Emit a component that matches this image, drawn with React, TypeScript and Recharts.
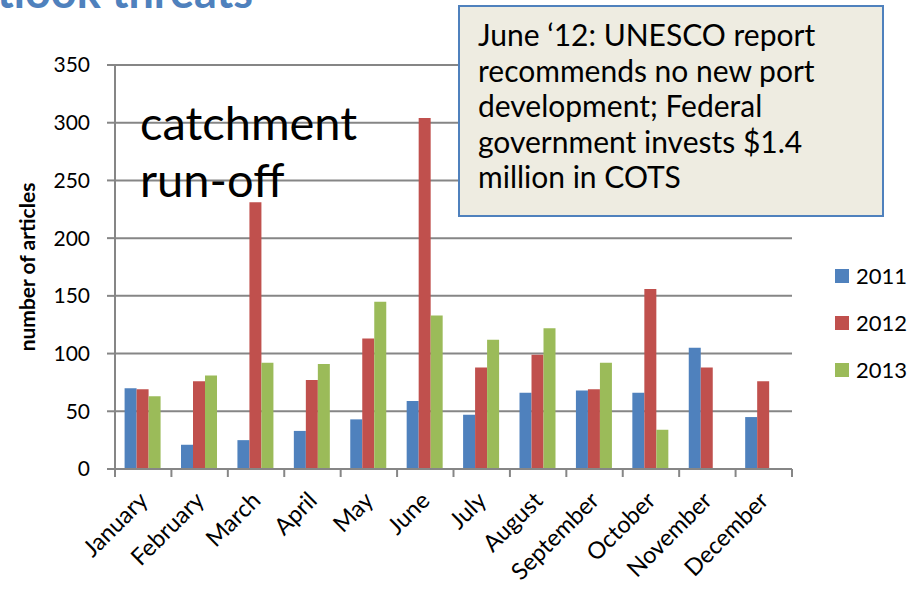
import { BarChart, Bar, XAxis, YAxis, CartesianGrid, Legend } from "recharts"

const months = ["January", "February", "March", "April", "May", "June", "July", "August", "September", "October", "November", "December"]
const y2011 = [70, 21, 25, 33, 43, 59, 47, 66, 68, 66, 105, 45]
const y2012 = [69, 76, 231, 77, 113, 304, 88, 99, 69, 156, 88, 76]
const y2013 = [63, 81, 92, 91, 145, 133, 112, 122, 92, 34, 0, 0]
const yTicks = [0, 50, 100, 150, 200, 250, 300, 350]

const data = months.map((m, i) => ({ month: m, "2011": y2011[i], "2012": y2012[i], "2013": y2013[i] }))

const series = [
  { key: "2011", color: "#4F81BD" },
  { key: "2012", color: "#C0504D" },
  { key: "2013", color: "#9BBB59" },
]

const FONT = "Lato, 'Open Sans', sans-serif"
const BAND = (792 - 115) / 12

function MonthTick(props: any) {
  const { x, y, payload, index } = props
  return (
    <g>
      <line x1={x - BAND / 2} y1={y - 8} x2={x - BAND / 2} y2={y} stroke="#868686" strokeWidth={2} />
      {index === months.length - 1 && (
        <line x1={x + BAND / 2} y1={y - 8} x2={x + BAND / 2} y2={y} stroke="#868686" strokeWidth={2} />
      )}
      <text x={x + 6} y={y + 25} transform={`rotate(-45 ${x + 6} ${y + 25})`} textAnchor="end" fontSize={23.5} fill="#000" fontFamily={FONT}>
        {payload.value}
      </text>
    </g>
  )
}

function LegendBox() {
  return (
    <div style={{ fontFamily: FONT }}>
      {series.map((s) => (
        <div key={s.key} style={{ display: "flex", alignItems: "center", height: 47 }}>
          <span style={{ width: 14, height: 14, background: s.color, display: "inline-block", marginRight: 7 }} />
          <span style={{ fontSize: 22, color: "#000" }}>{s.key}</span>
        </div>
      ))}
    </div>
  )
}

export default function App() {
  return (
    <div style={{ position: "absolute", left: 0, top: 0, width: 913, height: 590, overflow: "hidden", background: "#fff" }}>
      <BarChart width={913} height={590} data={data} margin={{ top: 65, right: 41, bottom: 0, left: 0 }} barCategoryGap="17%" barGap={0}>
        <CartesianGrid vertical={false} stroke="#868686" strokeWidth={2} />
        <XAxis dataKey="month" interval={0} height={121} tickLine={false} axisLine={{ stroke: "#868686", strokeWidth: 2 }} tick={<MonthTick />} />
        <YAxis
          width={115}
          domain={[0, 350]}
          ticks={yTicks}
          interval={0}
          axisLine={{ stroke: "#868686", strokeWidth: 2 }}
          tickLine={{ stroke: "#868686", strokeWidth: 2 }}
          tickSize={8}
          tickMargin={17}
          tick={{ fontSize: 21, fill: "#000", fontFamily: FONT }}
          label={{ value: "number of articles", angle: -90, position: "insideLeft", offset: 28, style: { textAnchor: "middle", fontWeight: 700, fontSize: 21, fill: "#000", fontFamily: FONT } }}
        />
        <Legend
          layout="vertical"
          verticalAlign="top"
          align="right"
          content={<LegendBox />}
          wrapperStyle={{ position: "absolute", left: 835, top: 252, width: 80 }}
        />
        {series.map((s) => (
          <Bar key={s.key} dataKey={s.key} fill={s.color} isAnimationActive={false} />
        ))}
      </BarChart>
      <div style={{ position: "absolute", right: 660, top: -31, fontSize: 45, lineHeight: "45px", fontWeight: 700, color: "#4F81BD", fontFamily: FONT, whiteSpace: "nowrap" }}>
        Outlook threats
      </div>
      <div style={{ position: "absolute", left: 140, top: 94, fontSize: 47, lineHeight: "57px", color: "#000", fontFamily: FONT }}>
        catchment
        <br />
        run-off
      </div>
      <div style={{ position: "absolute", left: 458, top: 5, width: 426, height: 212, background: "#EEECE1", border: "2px solid #4F81BD", boxSizing: "border-box", padding: "10px 18px", fontSize: 30, lineHeight: "35.5px", color: "#000", fontFamily: FONT }}>
        June ‘12: UNESCO report recommends no new port development; Federal government invests $1.4 million in COTS
      </div>
    </div>
  )
}
